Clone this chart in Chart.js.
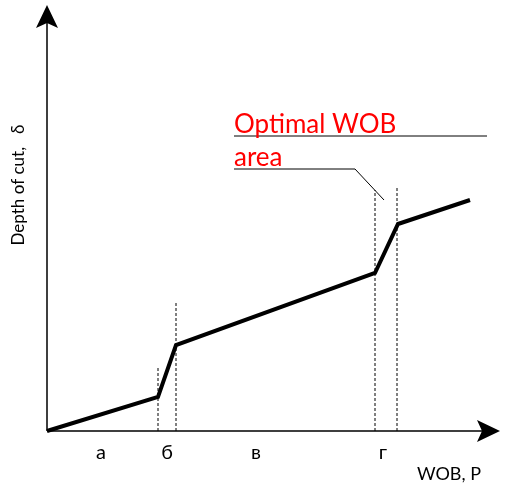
<!DOCTYPE html>
<html>
<head>
<meta charset="utf-8">
<script src="https://cdn.jsdelivr.net/npm/chart.js@4.4.1/dist/chart.umd.min.js"></script>
<style>
  html, body { margin: 0; padding: 0; background: #fff; }
</style>
</head>
<body>
<canvas id="myChart" width="508" height="484"></canvas>
<script>
// data (WOB / depth of cut, arbitrary units)
const wobPoints = [0, 111, 129, 328, 351, 423];
const depthPoints = [0, 34, 86, 158, 207, 231];

// stage boundaries (dashed) and how high each dashed line goes
const boundaryWob = [111, 129, 328, 350];
const boundaryTop = [64, 128, 241, 243];

// stage labels under the x axis
const stageLabels = ['а', 'б', 'в', 'г'];
const stageWob = [54, 120, 209, 336];

// "Optimal WOB area" leader lines
const leaderTopX = [187, 440];
const leaderTopY = [295, 295];
const leaderX = [187, 308, 337];
const leaderY = [262, 262, 231];

const xMax = 453;
const yMax = 426;

const toXY = (xs, ys) => xs.map((x, i) => ({ x: x, y: ys[i] }));

// setup
const datasets = [{
  label: 'Depth of cut',
  data: toXY(wobPoints, depthPoints),
  borderColor: '#000',
  borderWidth: 4,
  borderJoinStyle: 'miter',
  pointRadius: 0,
  order: 0
}];

boundaryWob.forEach((w, i) => {
  datasets.push({
    label: 'boundary ' + i,
    data: [{ x: w, y: 0 }, { x: w, y: boundaryTop[i] }],
    borderColor: '#000',
    borderWidth: 1,
    borderDash: [3, 2],
    pointRadius: 0,
    order: 1
  });
});

datasets.push({
  label: 'leader top',
  data: toXY(leaderTopX, leaderTopY),
  borderColor: '#000',
  borderWidth: 1,
  pointRadius: 0
});
datasets.push({
  label: 'leader',
  data: toXY(leaderX, leaderY),
  borderColor: '#000',
  borderWidth: 1,
  pointRadius: 0
});

// axes with arrows + texts
const axesPlugin = {
  id: 'axesArrows',
  beforeDatasetsDraw(chart) {
    const { ctx, chartArea } = chart;
    const x0 = chart.scales.x.getPixelForValue(0);
    const y0 = chart.scales.y.getPixelForValue(0);
    ctx.save();
    ctx.strokeStyle = '#000';
    ctx.fillStyle = '#000';
    ctx.lineWidth = 1.5;
    ctx.beginPath();
    ctx.moveTo(x0, y0);
    ctx.lineTo(x0, chartArea.top + 10);
    ctx.moveTo(x0, y0);
    ctx.lineTo(chartArea.right - 10, y0);
    ctx.stroke();
    // y arrow
    const ty = chartArea.top;
    ctx.beginPath();
    ctx.moveTo(x0, ty);
    ctx.lineTo(x0 + 11, ty + 23);
    ctx.lineTo(x0, ty + 18);
    ctx.lineTo(x0 - 11, ty + 23);
    ctx.closePath();
    ctx.fill();
    // x arrow
    const tx = chartArea.right;
    ctx.beginPath();
    ctx.moveTo(tx, y0);
    ctx.lineTo(tx - 23, y0 - 11);
    ctx.lineTo(tx - 18, y0);
    ctx.lineTo(tx - 23, y0 + 11);
    ctx.closePath();
    ctx.fill();
    ctx.restore();
  },
  afterDraw(chart) {
    const { ctx } = chart;
    const sx = chart.scales.x, sy = chart.scales.y;
    const y0 = sy.getPixelForValue(0);
    ctx.save();
    ctx.fillStyle = '#000';
    ctx.textAlign = 'center';
    ctx.textBaseline = 'alphabetic';
    ctx.font = '20px Lato, "Open Sans", sans-serif';
    stageLabels.forEach((t, i) => {
      ctx.fillText(t, sx.getPixelForValue(stageWob[i]), y0 + 28);
    });
    ctx.font = '18px Lato, "Open Sans", sans-serif';
    ctx.textAlign = 'left';
    ctx.fillText('WOB, P', 417, 480);

    // y title
    ctx.save();
    ctx.translate(24, 185);
    ctx.rotate(-Math.PI / 2);
    ctx.textAlign = 'center';
    ctx.font = '17px Lato, "Open Sans", sans-serif';
    ctx.fillText('Depth of cut,   δ', 0, 0);
    ctx.restore();

    // annotation
    ctx.fillStyle = '#ff0000';
    ctx.font = '26px Lato, "Open Sans", sans-serif';
    ctx.textAlign = 'left';
    const ax = sx.getPixelForValue(leaderTopX[0]);
    ctx.fillText('Optimal WOB', ax, sy.getPixelForValue(leaderTopY[0]) - 3);
    ctx.fillText('area', ax, sy.getPixelForValue(leaderY[0]) - 3);
    ctx.restore();
  }
};

// config
const config = {
  type: 'line',
  data: { datasets },
  options: {
    responsive: false,
    animation: false,
    clip: false,
    layout: { padding: { left: 47, right: 8, top: 5, bottom: 53 } },
    plugins: { legend: { display: false }, tooltip: { enabled: false } },
    scales: {
      x: { type: 'linear', min: 0, max: xMax, display: false },
      y: { type: 'linear', min: 0, max: yMax, display: false }
    }
  },
  plugins: [axesPlugin]
};

// render init block
const myChart = new Chart(document.getElementById('myChart'), config);
</script>
</body>
</html>
